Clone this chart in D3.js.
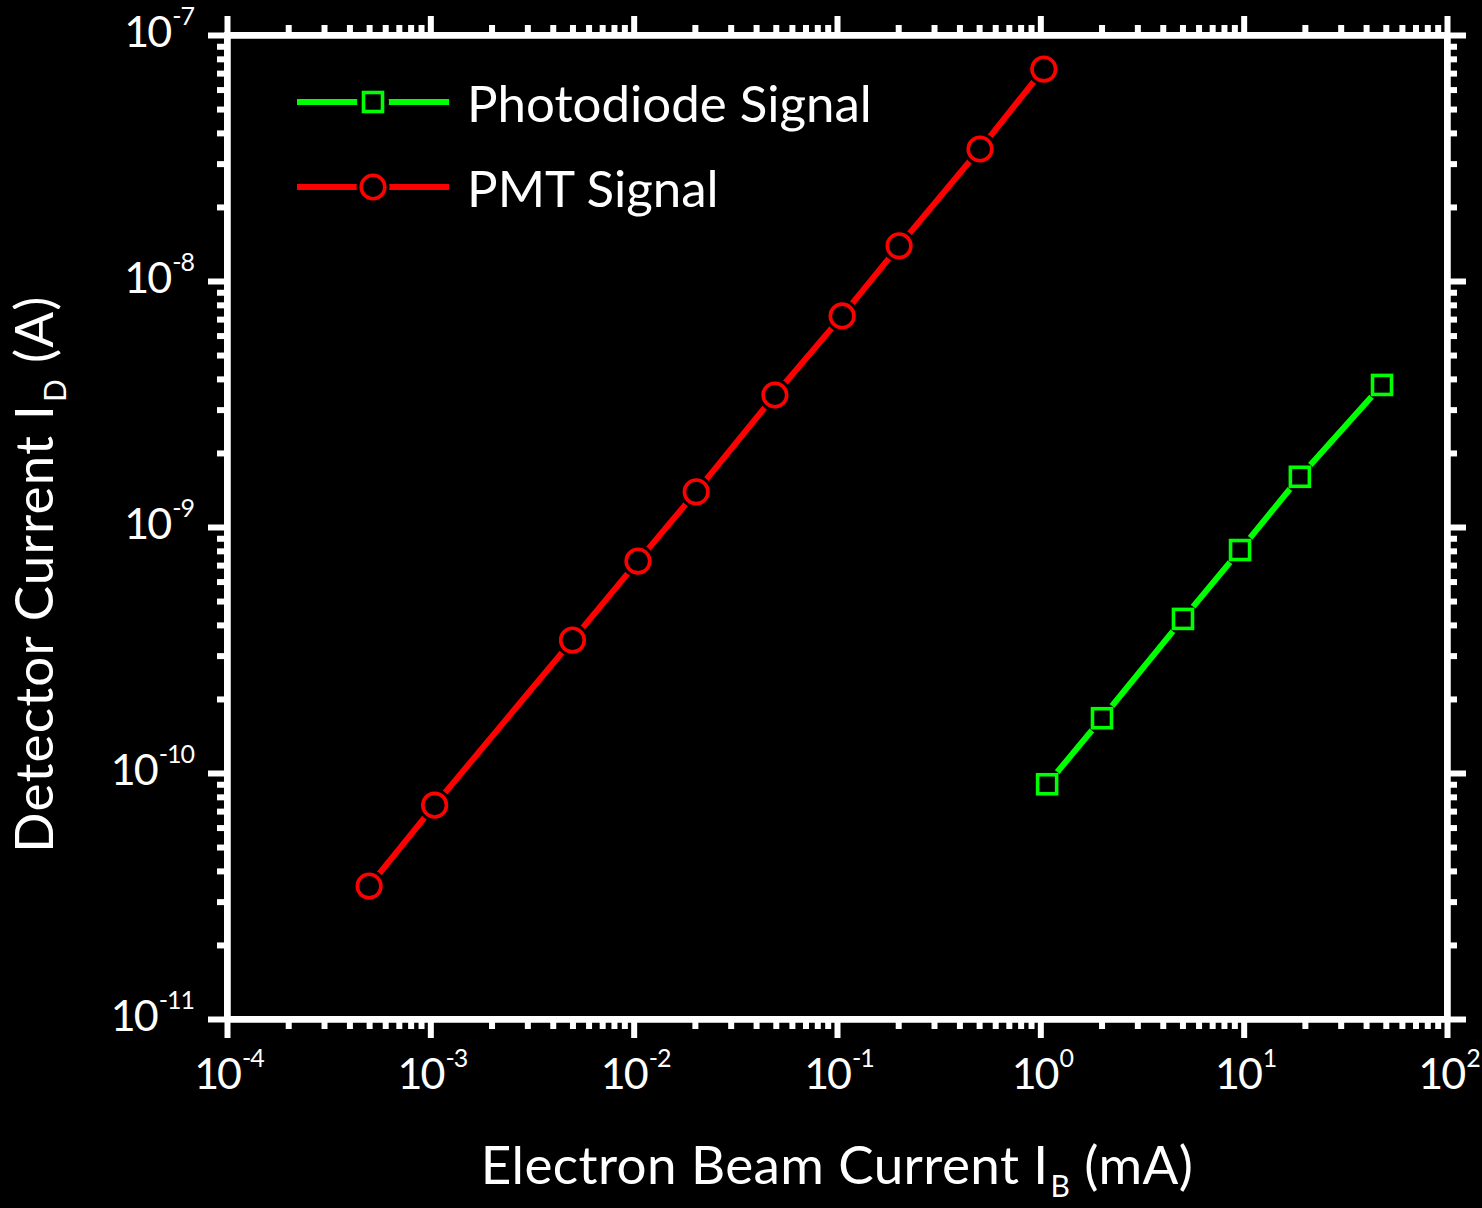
<!DOCTYPE html>
<html>
<head>
<meta charset="utf-8">
<script src="https://cdn.jsdelivr.net/npm/d3@7"></script>
<style>
  html, body { margin: 0; padding: 0; background: #000; }
  svg { display: block; }
  text { font-family: Lato, "Open Sans", sans-serif; fill: #fff; }
</style>
</head>
<body>
<svg id="chart" width="1482" height="1208"></svg>
<script>
// Beam current (mA) and measured detector current (A)
const pmtBeam = [5e-4, 1.05e-3, 5e-3, 1.05e-2, 2.03e-2, 4.95e-2, 0.106, 0.202, 0.505, 1.04];
const pmtCurrent = [3.47e-11, 7.4e-11, 3.47e-10, 7.27e-10, 1.39e-9, 3.44e-9, 7.21e-9, 1.39e-8, 3.44e-8, 7.27e-8];
const pdBeam = [1.08, 2.01, 5.03, 9.6, 18.9, 47.9];
const pdCurrent = [9.0e-11, 1.67e-10, 4.23e-10, 8.06e-10, 1.6e-9, 3.78e-9];

const xDecades = [-4, -3, -2, -1, 0, 1, 2];
const yDecades = [-11, -10, -9, -8, -7];
const seriesNames = ["Photodiode Signal", "PMT Signal"];
const xTitle = ["Electron Beam Current I", "B", " (mA)"];
const yTitle = ["Detector Current I", "D", " (A)"];

const GREEN = "#00ff00", RED = "#ff0000";
const svg = d3.select("#chart");
const L = 227, R = 1447, T = 35, B = 1019;

const x = d3.scaleLog().domain([1e-4, 1e2]).range([L, R]);
const y = d3.scaleLog().domain([1e-11, 1e-7]).range([B, T]);

function minorTicks(decs) {
  const out = [];
  for (let i = 0; i < decs.length - 1; i++)
    for (let k = 2; k <= 9; k++) out.push(k * Math.pow(10, decs[i]));
  return out;
}
const xMajor = xDecades.map(d => Math.pow(10, d));
const yMajor = yDecades.map(d => Math.pow(10, d));
const xMinor = minorTicks(xDecades);
const yMinor = minorTicks(yDecades);

function styleAxis(g) {
  g.select(".domain").attr("stroke", "#fff").attr("stroke-width", 6);
  g.selectAll(".tick line").attr("stroke", "#fff").attr("stroke-width", 6);
  g.selectAll(".tick text").remove();
}

// four-sided frame with outward major and minor ticks
const axes = [
  [d3.axisBottom(x), `translate(0,${B})`, xMajor, xMinor],
  [d3.axisTop(x), `translate(0,${T})`, xMajor, xMinor],
  [d3.axisLeft(y), `translate(${L},0)`, yMajor, yMinor],
  [d3.axisRight(y), `translate(${R},0)`, yMajor, yMinor]
];
axes.forEach(([ax, tr, maj, min]) => {
  svg.append("g").attr("transform", tr)
    .call(ax.tickValues(min).tickSize(10).tickSizeOuter(0).tickFormat(""))
    .call(styleAxis);
  svg.append("g").attr("transform", tr)
    .call(ax.tickValues(maj).tickSize(19).tickSizeOuter(0).tickFormat(""))
    .call(styleAxis);
});
// square the frame corners
svg.append("rect").attr("x", L).attr("y", T).attr("width", R - L).attr("height", B - T)
  .attr("fill", "none").attr("stroke", "#fff").attr("stroke-width", 6);

// tick labels: 10 with superscript exponent
function powerLabel(sel, exp) {
  sel.append("tspan").attr("font-size", 43).attr("letter-spacing", -2).text("10");
  sel.append("tspan").attr("font-size", 25).attr("dx", 2).attr("dy", -22)
    .attr("letter-spacing", -1).text(exp);
}
xDecades.forEach(d => {
  const t = svg.append("text").attr("x", x(Math.pow(10, d)) + 2).attr("y", 1089)
    .attr("text-anchor", "middle");
  powerLabel(t, d);
});
yDecades.forEach(d => {
  const t = svg.append("text").attr("x", 194).attr("y", y(Math.pow(10, d)) + 12)
    .attr("text-anchor", "end");
  powerLabel(t, d);
});

// axis titles
function titleWithSub(sel, parts) {
  sel.append("tspan").text(parts[0]);
  sel.append("tspan").attr("font-size", 30).attr("dx", 2).attr("dy", 13).text(parts[1]);
  sel.append("tspan").attr("dy", -13).text(parts[2]);
}
titleWithSub(svg.append("text").attr("x", 837).attr("y", 1184)
  .attr("text-anchor", "middle").attr("font-size", 53).attr("letter-spacing", 0.4), xTitle);
titleWithSub(svg.append("text").attr("transform", "translate(53,574) rotate(-90)")
  .attr("text-anchor", "middle").attr("font-size", 53).attr("letter-spacing", 1.2), yTitle);

// series
const line = d3.line().x(d => x(d[0])).y(d => y(d[1]));
const pmt = pmtBeam.map((b, i) => [b, pmtCurrent[i]]);
const pd = pdBeam.map((b, i) => [b, pdCurrent[i]]);

function drawSeries(data, color, shape) {
  svg.append("path").datum(data).attr("d", line)
    .attr("fill", "none").attr("stroke", color).attr("stroke-width", 6);
  const g = svg.append("g");
  data.forEach(d => drawMarker(g, x(d[0]), y(d[1]), color, shape));
}
function drawMarker(g, cx, cy, color, shape) {
  // black halo leaves a small gap between line and marker
  g.append("circle").attr("cx", cx).attr("cy", cy).attr("r", shape === "circle" ? 16.5 : 16)
    .attr("fill", "#000");
  if (shape === "circle") {
    g.append("circle").attr("cx", cx).attr("cy", cy).attr("r", 11.8)
      .attr("fill", "#000").attr("stroke", color).attr("stroke-width", 3.6);
  } else {
    g.append("rect").attr("x", cx - 9.5).attr("y", cy - 9.5).attr("width", 19).attr("height", 19)
      .attr("fill", "#000").attr("stroke", color).attr("stroke-width", 3.6);
  }
}
drawSeries(pmt, RED, "circle");
drawSeries(pd, GREEN, "square");

// legend
const legend = [[seriesNames[0], GREEN, "square", 102], [seriesNames[1], RED, "circle", 187]];
legend.forEach(([name, color, shape, ly]) => {
  svg.append("line").attr("x1", 297).attr("x2", 449).attr("y1", ly).attr("y2", ly)
    .attr("stroke", color).attr("stroke-width", 6);
  drawMarker(svg.append("g"), 373, ly, color, shape);
  svg.append("text").attr("x", 467).attr("y", ly + 20).attr("font-size", 51).text(name);
});
</script>
</body>
</html>
